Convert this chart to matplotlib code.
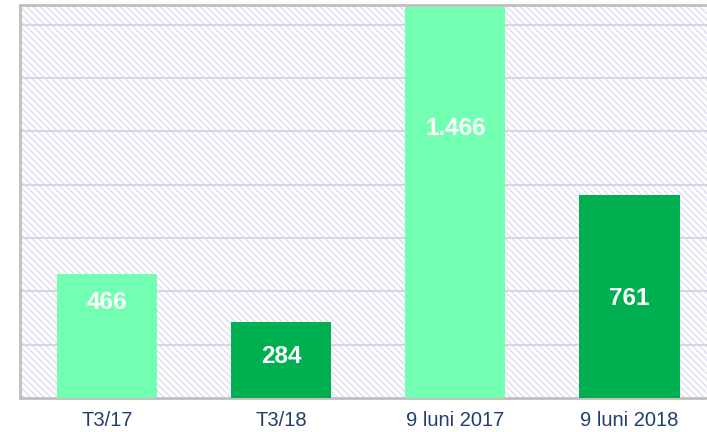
import numpy as np
from matplotlib import pyplot as plt
from matplotlib.patches import Rectangle

# Data
categories = ['T3/17', 'T3/18', '9 luni 2017', '9 luni 2018']
values = [466, 284, 1466, 761]
value_labels = ['466', '284', '1.466', '761']
bar_colors = ['#73FFB1', '#00B050', '#73FFB1', '#00B050']

# label anchor heights (in data units, as placed on the original)
label_y = [360, 157, 1010, 375]

plt.rc('font', family='Liberation Sans')
plt.rcParams['hatch.linewidth'] = 1.0

fig = plt.figure(figsize=(7.07, 4.32), dpi=100)
ax = fig.add_axes([20 / 707, 34 / 432, 687 / 707, 393 / 432])

# Hatched background
bg = Rectangle((0, 0), 1, 1, transform=ax.transAxes, facecolor='white',
               edgecolor='#DCDCF4', linewidth=0, hatch='\\\\\\\\\\', zorder=0)
ax.add_patch(bg)

x = np.arange(len(categories))
ax.bar(x, values, width=0.575, color=bar_colors, zorder=3)

for xi, ly, txt in zip(x, label_y, value_labels):
    ax.text(xi, ly, txt, ha='center', va='center', color='white',
            fontsize=17.5, fontweight='bold', zorder=4)

# Axis
ax.set_xlim(-0.5, 3.445)
ax.set_ylim(0, 1474)
ax.set_yticks(np.arange(200, 1401, 200))
ax.set_yticklabels([])
ax.yaxis.grid(True, color='#D9D4E4', linewidth=1.5, zorder=1)
ax.set_axisbelow(True)
ax.set_xticks(x)
ax.set_xticklabels(categories, color='#1F3F6E', fontsize=14.5)
ax.tick_params(axis='both', length=0)
ax.tick_params(axis='x', pad=9)

for side in ['left', 'bottom', 'top']:
    ax.spines[side].set_color('#BFBFBF')
    ax.spines[side].set_linewidth(2)
ax.spines['right'].set_visible(False)

plt.savefig('out.png', dpi=100)
